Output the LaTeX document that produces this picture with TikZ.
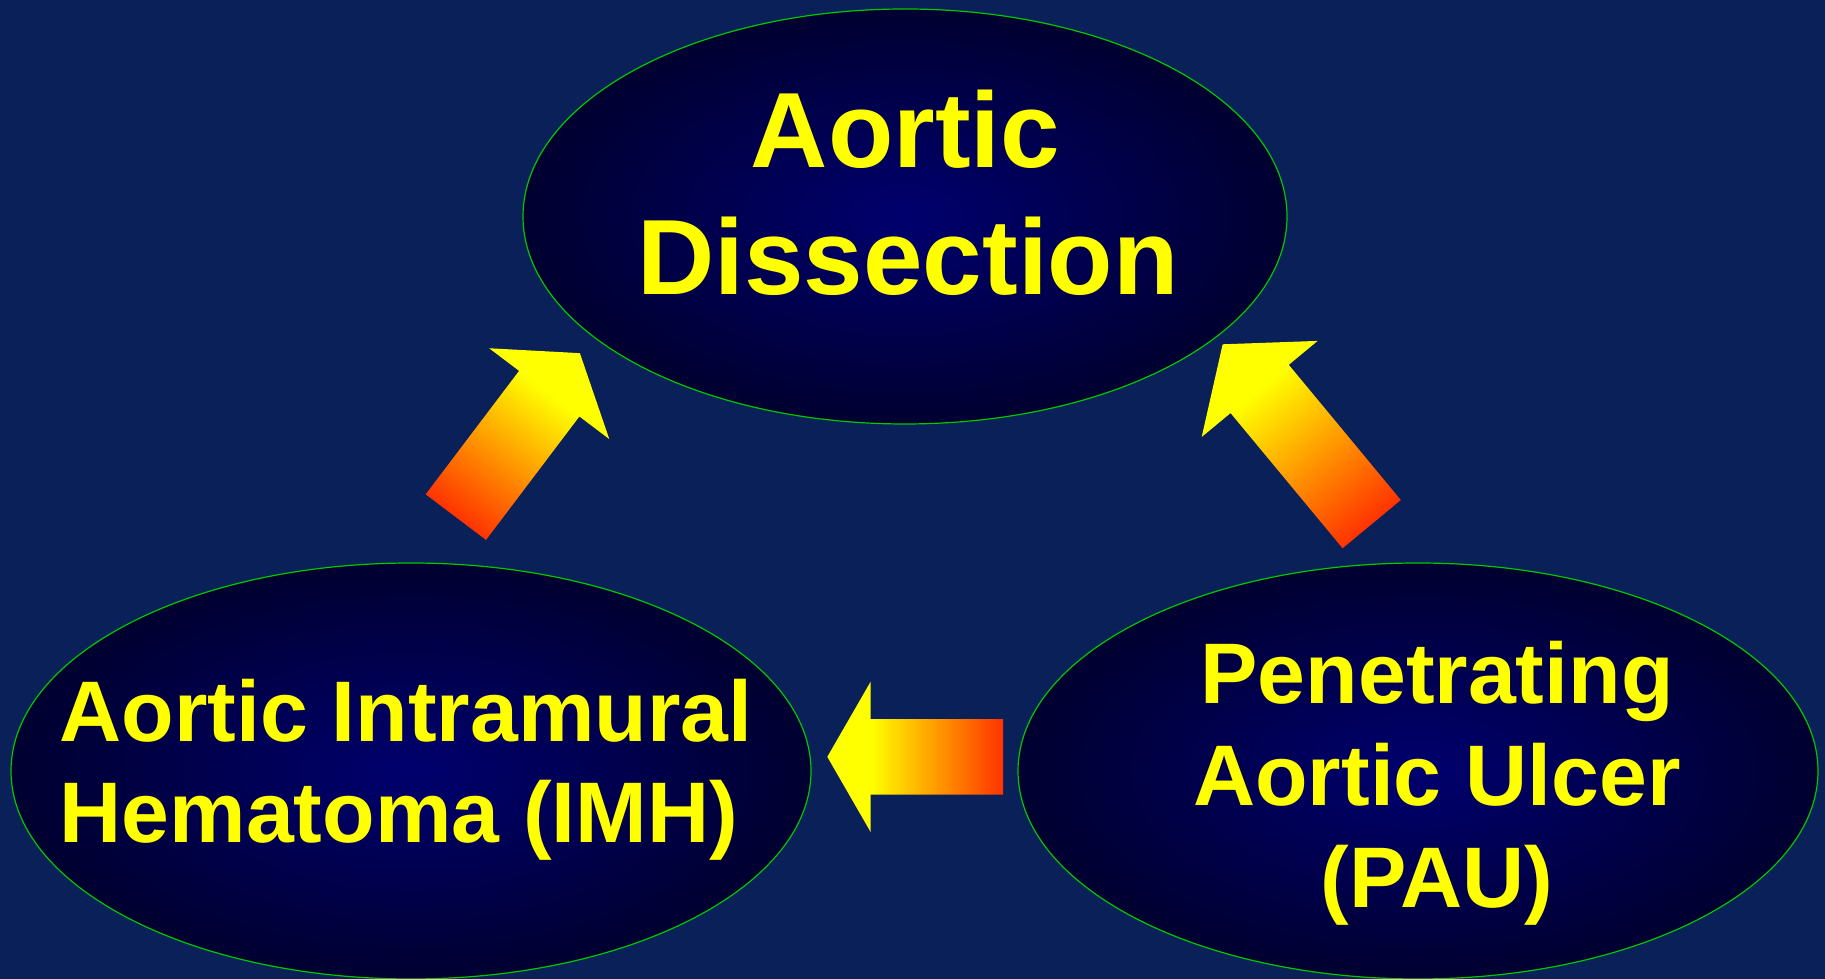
\documentclass[tikz,border=0pt]{standalone}
\usepackage{fontspec}
\setmainfont{Liberation Sans}
\usetikzlibrary{shapes.geometric}
\definecolor{bgnavy}{RGB}{10,32,88}
\definecolor{ellin}{RGB}{0,0,110}
\definecolor{ellout}{RGB}{0,0,48}
\definecolor{ringgreen}{RGB}{0,200,0}
\definecolor{txtyellow}{RGB}{255,255,0}
\definecolor{arrred}{RGB}{255,51,0}
\definecolor{arryel}{RGB}{255,255,0}
\pgfdeclarehorizontalshading{arrowgrad}{100bp}{color(0bp)=(arrred); color(25bp)=(arrred); color(62.6bp)=(arryel); color(100bp)=(arryel)}
\begin{document}
\begin{tikzpicture}[x=1pt,y=1pt,
  bubble/.style={ellipse, draw=ringgreen, line width=1.2pt, inner color=ellin, outer color=ellout, inner sep=0pt, outer sep=0pt},
  bigtxt/.style={anchor=base, text=txtyellow, font={\fontsize{107}{128}\selectfont\bfseries}, inner sep=0pt},
  midtxt/.style={anchor=base, text=txtyellow, font={\fontsize{86}{102}\selectfont\bfseries}, inner sep=0pt},
  blockarrow/.style={shading=arrowgrad}]
\fill[bgnavy] (0,0) rectangle (1825,979);
\useasboundingbox (0,0) rectangle (1825,979);
% ellipses
\node[bubble, minimum width=764, minimum height=415] (dis) at (905,762.5) {};
\node[bubble, minimum width=800, minimum height=416] (imh) at (411,208) {};
\node[bubble, minimum width=800, minimum height=416] (pau) at (1418,208) {};
% texts
\node[bigtxt] (dis1) at (905.5,811.7) {Aortic};
\node[bigtxt] (dis2) at (908,684) {Dissection};
\node[midtxt] (imh1) at (406,237.3) {Aortic Intramural};
\node[midtxt] (imh2) at (399,136.3) {Hematoma (IMH)};
\node[midtxt] (pau1) at (1437,275.7) {Penetrating};
\node[midtxt] (pau2) at (1437,173.7) {Aortic Ulcer};
\node[midtxt] (pau3) at (1437,71.7) {(PAU)};
% block arrows
\begin{scope}[transform canvas={shift={(455.85,461.85)},rotate=52.9}]
\shade[blockarrow] (0,37.8) -- (154.8,37.8) -- (154.8,75.3) -- (205.6,0) -- (154.8,-75.3) -- (154.8,-37.8) -- (0,-37.8) -- cycle;
\end{scope}
\begin{scope}[transform canvas={shift={(1371.7,454.85)},rotate=129.65}]
\shade[blockarrow] (0,37.8) -- (175.6,37.8) -- (175.6,75.3) -- (233.6,0) -- (175.6,-75.3) -- (175.6,-37.8) -- (0,-37.8) -- cycle;
\end{scope}
\begin{scope}[transform canvas={shift={(1003,222.15)},rotate=180}]
\shade[blockarrow] (0,37.8) -- (132.3,37.8) -- (132.3,75.3) -- (175.7,0) -- (132.3,-75.3) -- (132.3,-37.8) -- (0,-37.8) -- cycle;
\end{scope}
\end{tikzpicture}
\end{document}
